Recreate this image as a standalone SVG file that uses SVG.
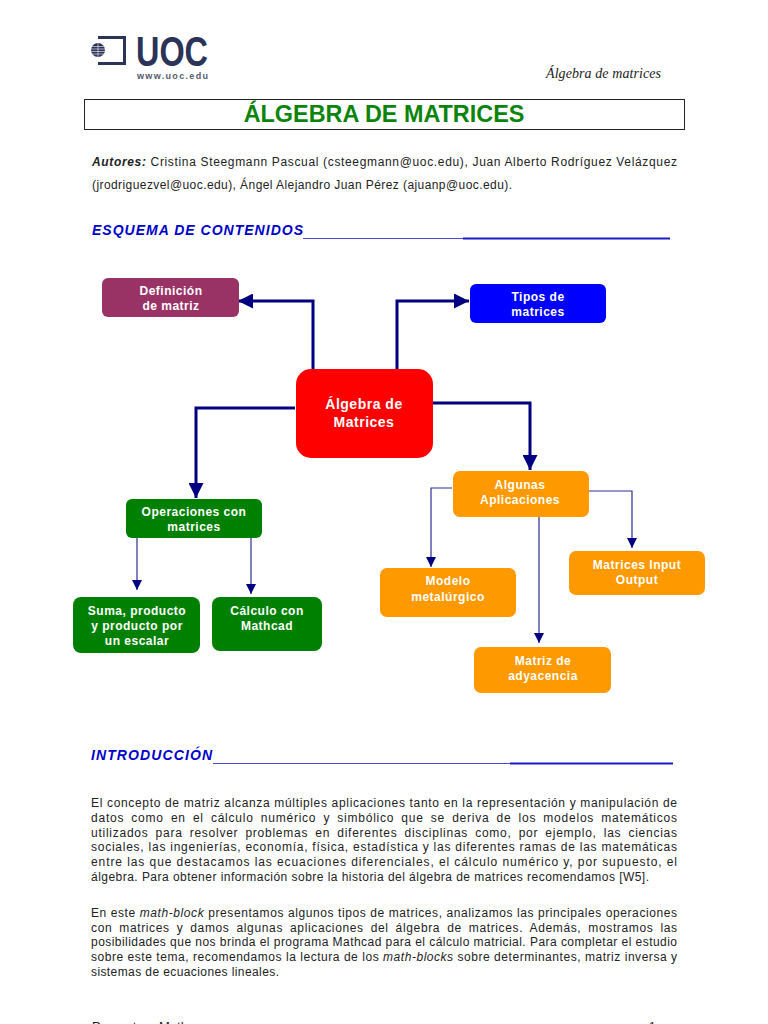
<svg xmlns="http://www.w3.org/2000/svg" width="768" height="1024" viewBox="0 0 768 1024">
<style>
text{font-family:"Liberation Sans",Arial,sans-serif}
.n{font-size:12px;font-weight:bold;fill:#fff;text-anchor:middle;letter-spacing:.5px}
.b{font-size:12px;fill:#222}
.w{word-spacing:3px}
.h{font-size:14px;font-weight:bold;font-style:italic;fill:#0000cc}
.u1{stroke:#4a4ad8;stroke-width:1}
.u2{stroke:#1a1ac8;stroke-width:2}
.t{fill:none;stroke:#000080;stroke-width:3}
.f{fill:none;stroke:#2c2c90;stroke-width:1.2}
</style>
<defs>
<marker id="big" markerUnits="userSpaceOnUse" markerWidth="15" markerHeight="15" refX="15" refY="7.5" orient="auto"><path d="M0 0L15 7.5L0 15z" fill="#000080"/></marker>
<marker id="small" markerUnits="userSpaceOnUse" markerWidth="10" markerHeight="10" refX="10" refY="5" orient="auto"><path d="M0 0L10 5L0 10z" fill="#000080"/></marker>
</defs>
<rect width="768" height="1024" fill="#fff"/>
<g id="logo">
<circle cx="98" cy="50" r="7" fill="#2b3358"/>
<path d="M91 46.500H105M91 49H105M91 51.500H105M91 54H105M98 43V57" stroke="#fff" stroke-width=".6" fill="none"/>
<path d="M98 37.500H124.500V63.500H98" fill="none" stroke="#2b3358" stroke-width="3"/>
<text x="136" y="66" font-size="43" font-weight="bold" fill="#2b3358" textLength="72" lengthAdjust="spacingAndGlyphs">UOC</text>
<text x="137" y="79" font-size="9" font-weight="bold" fill="#555a70" textLength="71">www.uoc.edu</text>
</g>
<text x="546" y="78" font-size="14" font-style="italic" fill="#222" textLength="115" style="font-family:'Liberation Serif',serif">Álgebra de matrices</text>
<rect x="84.500" y="99.500" width="600" height="30" fill="#fff" stroke="#222" stroke-width="1"/>
<text x="384" y="122" font-size="23.400" font-weight="bold" fill="#0a840a" text-anchor="middle">ÁLGEBRA DE MATRICES</text>
<text class="b" x="92" y="166" textLength="585"><tspan font-weight="bold" font-style="italic">Autores:</tspan> Cristina Steegmann Pascual (csteegmann@uoc.edu), Juan Alberto Rodríguez Velázquez</text>
<text class="b" x="92" y="189" textLength="420">(jrodriguezvel@uoc.edu), Ángel Alejandro Juan Pérez (ajuanp@uoc.edu).</text>
<text class="h" x="92" y="235" textLength="211">ESQUEMA DE CONTENIDOS</text>
<path class="u1" d="M303 238.500H463"/>
<path class="u2" d="M463 238.500H670"/>
<g id="connectors">
<path class="t" d="M313 369V301H238" marker-end="url(#big)"/>
<path class="t" d="M397 369V301H469" marker-end="url(#big)"/>
<path class="t" d="M433 403H530V470" marker-end="url(#big)"/>
<path class="t" d="M295 408H196V498" marker-end="url(#big)"/>
<path class="f" d="M137 538V590" marker-end="url(#small)"/>
<path class="f" d="M251 538V594" marker-end="url(#small)"/>
<path class="f" d="M452 488H431V567" marker-end="url(#small)"/>
<path class="f" d="M589 491H632V548" marker-end="url(#small)"/>
<path class="f" d="M539 516V643" marker-end="url(#small)"/>
</g>
<g id="def"><rect x="102" y="278" width="137" height="39" rx="6" fill="#993366"/><text class="n" x="171" y="295">Definición</text><text class="n" x="171" y="310">de matriz</text></g>
<g id="tipos"><rect x="470" y="284" width="136" height="39" rx="6" fill="#0000ff"/><text class="n" x="538" y="301">Tipos de</text><text class="n" x="538" y="316">matrices</text></g>
<g id="algebra"><rect x="296" y="369" width="137" height="89" rx="15" fill="#ff0000"/><text class="n" x="364" y="409" style="font-size:14px">Álgebra de</text><text class="n" x="364" y="427" style="font-size:14px">Matrices</text></g>
<g id="oper"><rect x="126" y="499" width="136" height="39" rx="6" fill="#008000"/><text class="n" x="194" y="516">Operaciones con</text><text class="n" x="194" y="531">matrices</text></g>
<g id="suma"><rect x="73" y="597" width="127" height="56" rx="8" fill="#008000"/><text class="n" x="137" y="615">Suma, producto</text><text class="n" x="137" y="630">y producto por</text><text class="n" x="137" y="645">un escalar</text></g>
<g id="calc"><rect x="212" y="597" width="110" height="54" rx="8" fill="#008000"/><text class="n" x="267" y="615">Cálculo con</text><text class="n" x="267" y="630">Mathcad</text></g>
<g id="apl"><rect x="453" y="471" width="136" height="46" rx="7" fill="#ff9900"/><text class="n" x="520" y="489">Algunas</text><text class="n" x="520" y="504">Aplicaciones</text></g>
<g id="modelo"><rect x="380" y="568" width="136" height="49" rx="7" fill="#ff9900"/><text class="n" x="448" y="585">Modelo</text><text class="n" x="448" y="601">metalúrgico</text></g>
<g id="input"><rect x="569" y="551" width="136" height="44" rx="7" fill="#ff9900"/><text class="n" x="637" y="569">Matrices Input</text><text class="n" x="637" y="584">Output</text></g>
<g id="ady"><rect x="474" y="647" width="137" height="46" rx="7" fill="#ff9900"/><text class="n" x="543" y="665">Matriz de</text><text class="n" x="543" y="680">adyacencia</text></g>
<text class="h" x="91" y="760" textLength="121">INTRODUCCIÓN</text>
<path class="u1" d="M213 763.500H510"/>
<path class="u2" d="M510 763.500H673"/>
<text class="b" x="91" y="807" textLength="586">El concepto de matriz alcanza múltiples aplicaciones tanto en la representación y manipulación de</text>
<text class="b w" x="91" y="822" textLength="586">datos como en el cálculo numérico y simbólico que se deriva de los modelos matemáticos</text>
<text class="b w" x="91" y="837" textLength="586">utilizados para resolver problemas en diferentes disciplinas como, por ejemplo, las ciencias</text>
<text class="b" x="91" y="851" textLength="586">sociales, las ingenierías,  economía, física, estadística y las diferentes ramas de las matemáticas</text>
<text class="b" x="91" y="866" textLength="586">entre las que destacamos las ecuaciones diferenciales, el cálculo numérico y, por supuesto, el</text>
<text class="b" x="91" y="881" textLength="558">álgebra. Para obtener información sobre la historia del álgebra de matrices recomendamos [W5].</text>
<text class="b" x="91" y="917" textLength="586">En este <tspan font-style="italic">math-block</tspan> presentamos algunos tipos de matrices, analizamos las principales operaciones</text>
<text class="b w" x="91" y="932" textLength="586">con matrices y damos algunas aplicaciones del álgebra de matrices. Además, mostramos las</text>
<text class="b" x="91" y="946" textLength="586">posibilidades que nos brinda el programa Mathcad para el cálculo matricial. Para completar el estudio</text>
<text class="b" x="91" y="961" textLength="586">sobre este tema, recomendamos la lectura de los <tspan font-style="italic">math-blocks</tspan> sobre determinantes, matriz inversa y</text>
<text class="b" x="91" y="976" textLength="188">sistemas de ecuaciones lineales.</text>
<text class="b" x="92" y="1031" style="font-size:13px" textLength="96">Proyecto e-Math</text>
<text class="b" x="649" y="1031">1</text>
</svg>
